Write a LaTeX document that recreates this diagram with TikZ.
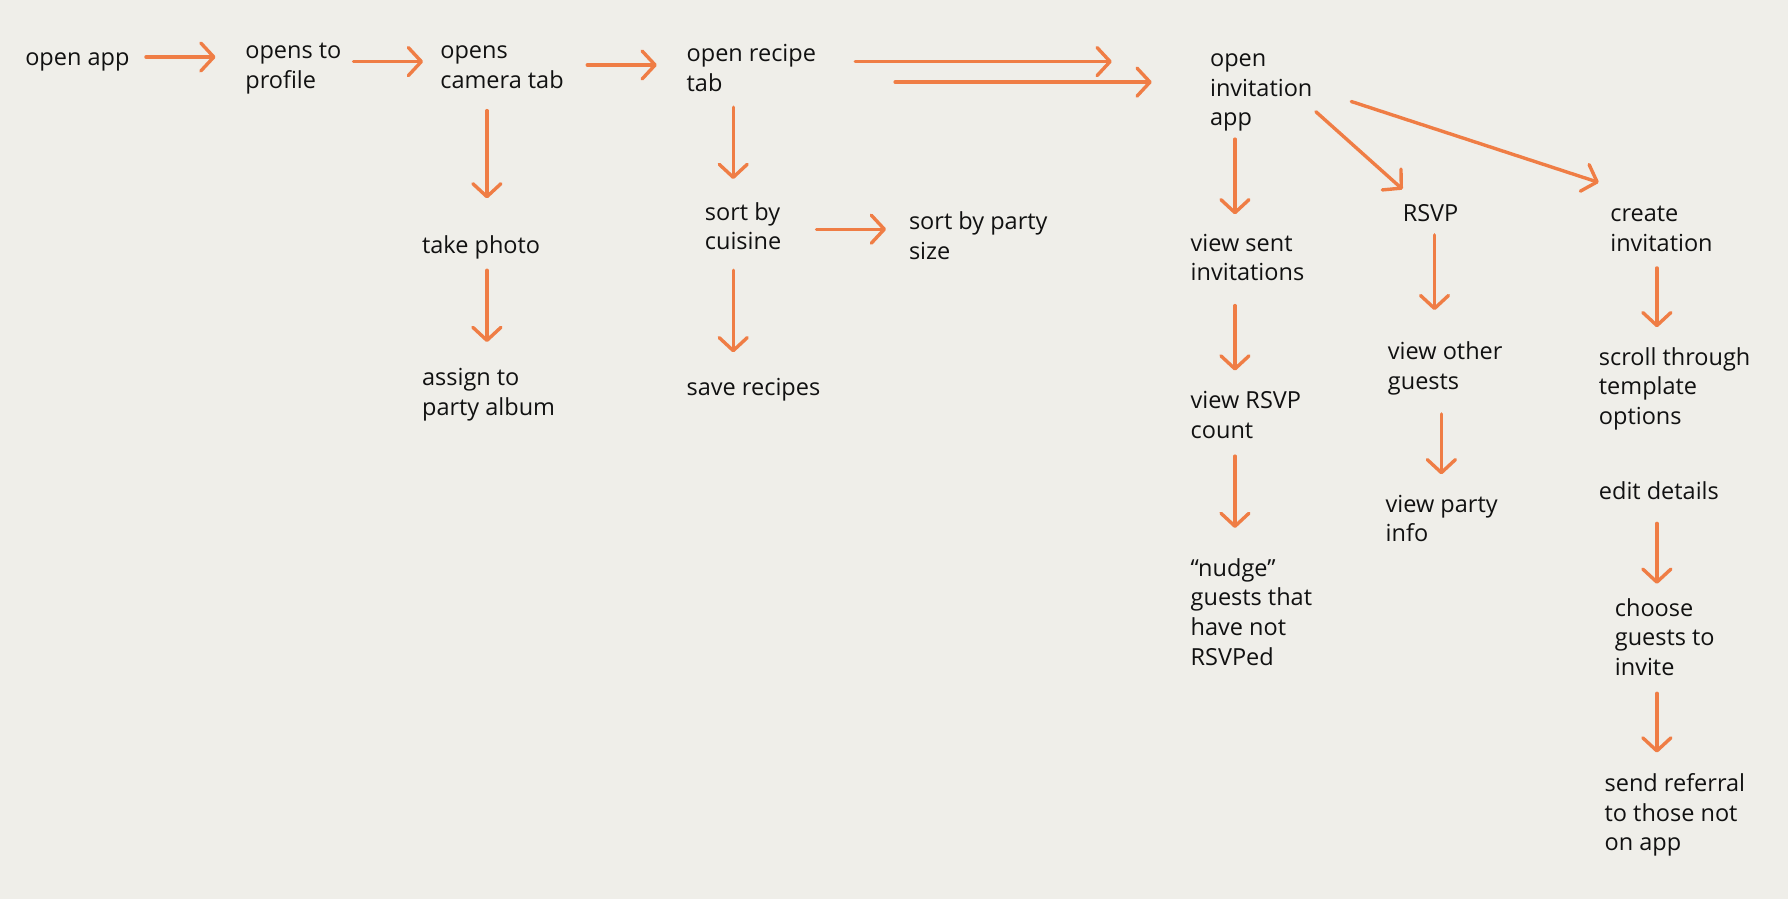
\documentclass[tikz,border=0pt]{standalone}
\usepackage{fontspec}
\setmainfont{Open Sans}
\usetikzlibrary{arrows.meta}
\definecolor{bg}{HTML}{EFEEE9}
\definecolor{arrc}{HTML}{EF7D45}
\definecolor{txt}{HTML}{111111}
\begin{document}
\begin{tikzpicture}[x=1.1403pt, y=-1.1403pt,
  lbl/.style={anchor=north west, inner sep=0pt, align=left, text=txt,
    font=\fontsize{23.5}{29.65}\selectfont, yshift=-2pt},
  arr/.style={draw=arrc, line width=3.4pt, line cap=round,
    -{Straight Barb[length=13pt,width=28pt,round]}}]
\fill[bg] (0,0) rectangle (1568,788);
\useasboundingbox (0,0) rectangle (1568,788);
% nodes
\node[lbl] (app) at (22,37.1) {\strut open app};
\node[lbl] (profile) at (215,31.1) {\strut opens to\\profile};
\node[lbl] (camera) at (386,31.1) {\strut opens\\camera tab};
\node[lbl] (recipe) at (602,34.1) {\strut open recipe\\tab};
\node[lbl] (invapp) at (1061,38.1) {\strut open\\invitation\\app};
\node[lbl] (photo) at (370,202.1) {\strut take photo};
\node[lbl] (album) at (370,318.1) {\strut assign to\\party album};
\node[lbl] (cuisine) at (618,173.1) {\strut sort by\\cuisine};
\node[lbl] (psize) at (797,181.1) {\strut sort by party\\size};
\node[lbl] (save) at (602,327.1) {\strut save recipes};
\node[lbl] (sent) at (1044,200.1) {\strut view sent\\invitations};
\node[lbl] (count) at (1044,338.1) {\strut view RSVP\\count};
\node[lbl] (nudge) at (1044,485.1) {\strut “nudge”\\guests that\\have not\\RSVPed};
\node[lbl] (rsvp) at (1230,174.1) {\strut RSVP};
\node[lbl] (other) at (1217,295.1) {\strut view other\\guests};
\node[lbl] (info) at (1215,429.1) {\strut view party\\info};
\node[lbl] (create) at (1412,174.1) {\strut create\\invitation};
\node[lbl] (scroll) at (1402,300.1) {\strut scroll through\\template\\options};
\node[lbl] (edit) at (1402,418.1) {\strut edit details};
\node[lbl] (choose) at (1416,520.1) {\strut choose\\guests to\\invite};
\node[lbl] (referral) at (1407,674.1) {\strut send referral\\to those not\\on app};
% connector end points
\coordinate (a1s) at (128,50);  \coordinate (a1e) at (189,50);
\coordinate (a2s) at (310,54);  \coordinate (a2e) at (371,54);
\coordinate (a3s) at (515,57);  \coordinate (a3e) at (576,57);
\coordinate (a4s) at (750,54);  \coordinate (a4e) at (975,54);
\coordinate (a5s) at (785,72);  \coordinate (a5e) at (1010,72);
\coordinate (b1s) at (427,97);  \coordinate (b1e) at (427,174);
\coordinate (b2s) at (427,237); \coordinate (b2e) at (427,300);
\coordinate (c1s) at (643,94);  \coordinate (c1e) at (643,157);
\coordinate (c2s) at (643,237); \coordinate (c2e) at (643,309);
\coordinate (c3s) at (716,201); \coordinate (c3e) at (777,201);
\coordinate (d1s) at (1083,122); \coordinate (d1e) at (1083,188);
\coordinate (d2s) at (1154,98);  \coordinate (d2e) at (1230,166);
\coordinate (d3s) at (1185,89);  \coordinate (d3e) at (1402,160);
\coordinate (e1s) at (1083,268); \coordinate (e1e) at (1083,325);
\coordinate (e2s) at (1083,400); \coordinate (e2e) at (1083,463);
\coordinate (f1s) at (1258,206); \coordinate (f1e) at (1258,272);
\coordinate (f2s) at (1264,363); \coordinate (f2e) at (1264,416);
\coordinate (g1s) at (1453,235); \coordinate (g1e) at (1453,287);
\coordinate (g2s) at (1453,459); \coordinate (g2e) at (1453,512);
\coordinate (g3s) at (1453,608); \coordinate (g3e) at (1453,660);
% connectors
\foreach \a in {a1,a2,a3,a4,a5,b1,b2,c1,c2,c3,d1,d2,d3,e1,e2,f1,f2,g1,g2,g3}
  \draw[arr] (\a s) -- (\a e);
\end{tikzpicture}
\end{document}
